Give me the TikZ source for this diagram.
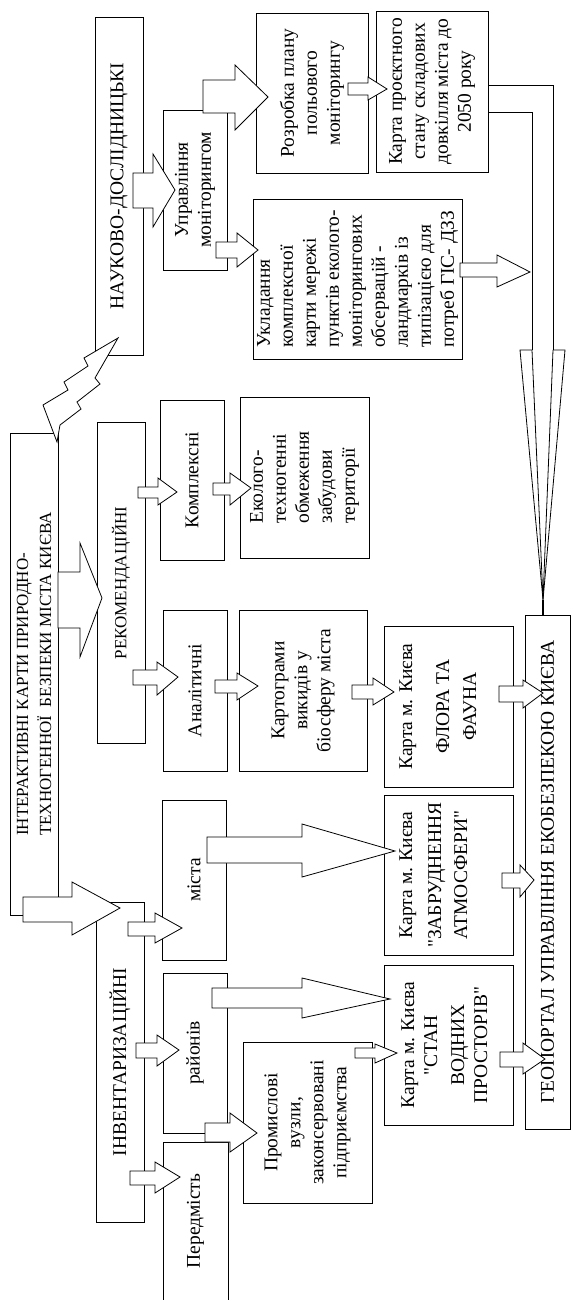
\documentclass[tikz,border=0pt]{standalone}
\usepackage{fontspec}
\setmainfont{Liberation Serif}[Ligatures=TeXOff]
\newcommand\blkarrow[8]{\draw[arr] (#1,#4)--(#2,#4)--(#2,#6)--(#3,#8)--(#2,#7)--(#2,#5)--(#1,#5)--cycle;}
\begin{document}
\begin{tikzpicture}[x=1pt,y=-1pt,line width=0.8pt,
  bx/.style={draw, rotate=90, inner sep=0pt, outer sep=0pt, align=center, font=\fontsize{19.5}{23}\selectfont},
  txt/.style={rotate=90, inner sep=0pt, align=center, font=\fontsize{19.5}{23}\selectfont},
  small/.style={font=\fontsize{17}{23}\selectfont},
  arr/.style={draw, fill=white, line join=miter}]
\useasboundingbox (0,0) rectangle (572,1300);
\fill[white] (0,0) rectangle (572,1300);

% --- boxes ---
\node[bx, minimum width=338, minimum height=48] (nauk) at (119,186) {НАУКОВО-ДОСЛІДНИЦЬКІ};
\node[bx, minimum width=160, minimum height=64] (upr) at (195,190) {Управління\\моніторингом};
\node[bx, minimum width=160, minimum height=112] (rozr) at (312,93) {Розробка плану\\польового\\моніторингу};
\node[bx, minimum width=161, minimum height=112] (karta) at (432,91.5) {Карта проєктного\\стану складових\\довкілля міста до\\2050 року};
\node[bx, align=left, minimum width=160, minimum height=209] (ukl) at (357.5,279) {Укладання\\комплексної\\карти мережі\\пунктів еколого-\\моніторингових\\обсервацій -\\ландмарків із\\типізацією для\\потреб ГІС- ДЗЗ};
\node[bx, small, align=left, minimum width=482, minimum height=48] (title) at (34,674) {ІНТЕРАКТИВНІ КАРТИ ПРИРОДНО-\\ТЕХНОГЕННОЇ\ \ БЕЗПЕКИ МІСТА КИЄВА};
\node[bx, small, minimum width=321, minimum height=48] (rekom) at (121,583) {РЕКОМЕНДАЦІЙНІ};
\node[bx, minimum width=160, minimum height=64] (kompl) at (192,480) {Комплексні};
\node[bx, align=left, minimum width=161, minimum height=129] (ekol) at (304.5,477.5) {Еколого-\\техногенні\\обмеження\\забудови\\території};
\node[bx, minimum width=161, minimum height=64] (anal) at (195,690.5) {Аналітичні};
\node[bx, minimum width=161, minimum height=128] (kartog) at (303,690.5) {Картограми\\викидів у\\біосферу міста};
\node[bx, minimum width=161, minimum height=129] (flora) at (448.5,706.5) {};
\node[bx, minimum width=160, minimum height=129] (zabr) at (448.5,875) {};
\node[bx, minimum width=160, minimum height=129] (stan) at (448.5,1045) {};
\node[txt, anchor=north] (floraT) at (399,706.5) {Карта м. Києва\\[14pt]ФЛОРА ТА\\[4pt]ФАУНА};
\node[txt, anchor=north] (zabrT) at (399,875) {Карта м. Києва\\[6pt]"ЗАБРУДНЕННЯ\\[3pt]АТМОСФЕРИ"};
\node[txt, anchor=north] (stanT) at (401,1045) {Карта м. Києва\\"СТАН\\[4pt]ВОДНИХ\\ПРОСТОРІВ"};
\node[bx, minimum width=320, minimum height=48] (inv) at (120,1062) {ІНВЕНТАРИЗАЦІЙНІ};
\node[bx, minimum width=160, minimum height=64] (mista) at (194,880) {міста};
\node[bx, minimum width=160, minimum height=64] (rayon) at (195,1053) {районів};
\node[bx, minimum width=161, minimum height=129] (prom) at (307.5,1122.5) {Промислові\\вузли,\\законсервовані\\підприємства};
\node[bx, minimum width=514, minimum height=45] (geo) at (547.5,872) {ГЕОПОРТАЛ УПРАВЛІННЯ ЕКОБЕЗПЕКОЮ КИЄВА};
\draw (163,1300) -- (163,1142) -- (228,1142) -- (228,1300);
\node[txt] (pered) at (195.5,1221) {Передмість};

% --- lightning from title to НАУКОВО ---
\draw[arr] (57,442) -- (43,405) -- (68,390) -- (64,382) -- (88,366) -- (84,358) -- (118,338)
  -- (95,378) -- (100,384) -- (77,402) -- (81,409) -- (60,425) -- cycle;

% --- block arrows ---
\blkarrow{133}{153}{175}{173}{208}{154}{227}{190}
\blkarrow{203}{235}{268}{80}{113}{65}{130}{97}
\blkarrow{216}{237}{258}{242}{258}{233}{267}{250}
\blkarrow{348}{368}{387}{83}{95}{77}{100}{89}
\blkarrow{460}{497}{530}{263}{277}{255}{287}{272}
\blkarrow{58}{80}{102}{572}{628}{543}{657}{598}
\blkarrow{23}{72}{120}{897}{922}{882}{935}{908}
\blkarrow{138}{158}{177}{487}{498}{478}{505}{492}
\blkarrow{133}{157}{178}{670}{685}{662}{695}{677}
\blkarrow{213}{230}{251}{483}{495}{473}{505}{488}
\blkarrow{215}{237}{258}{680}{693}{673}{700}{686}
\blkarrow{352}{373}{394}{685}{699}{678}{705}{692}
\blkarrow{499}{523}{543}{686}{702}{680}{708}{693}
\blkarrow{502}{520}{534}{873}{888}{865}{897}{880}
\blkarrow{207}{302}{395}{837}{863}{824}{877}{851}
\blkarrow{128}{155}{182}{922}{936}{913}{943}{928}
\blkarrow{136}{157}{179}{1043}{1058}{1035}{1066}{1050}
\blkarrow{130}{155}{180}{1171}{1185}{1162}{1193}{1177}
\blkarrow{205}{230}{257}{1123}{1142}{1113}{1152}{1133}
\blkarrow{212}{302}{390}{988}{1008}{978}{1018}{999}
\blkarrow{355}{375}{397}{1048}{1058}{1044}{1063}{1053}
\blkarrow{500}{523}{545}{1052}{1067}{1043}{1074}{1059}

% --- big tapering arrow to ГЕОПОРТАЛ ---
\coordinate (tipG) at (543,600);
\draw (488,85) -| (553,350);
\draw (488,112) -| (532,350);
\draw[line join=miter] (532,350) -- (520,350) -- (tipG) -- (565,350) -- (553,350);
\draw (532,350) -- (tipG) -- (553,350);
\draw[line width=2pt] (tipG) -- (543,615);
\end{tikzpicture}
\end{document}
